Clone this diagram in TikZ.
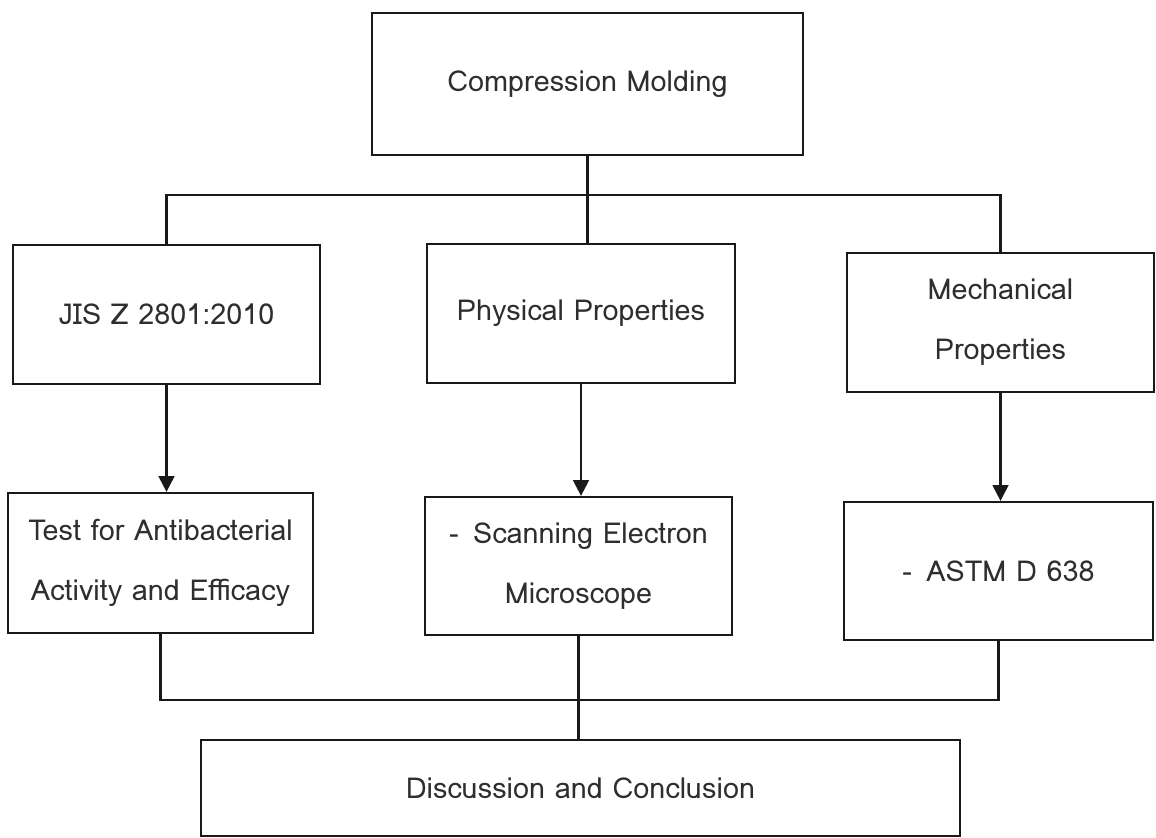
\documentclass[tikz,border=0pt]{standalone}
\usepackage{fontspec}
\setmainfont{Loma}
\usetikzlibrary{arrows.meta}
\begin{document}
\begin{tikzpicture}[x=0.02cm,y=-0.02cm,
  box/.style={draw=black!90,line width=1.3pt,inner sep=0pt,align=center,
    text=black!82,font=\fontsize{16.4}{34}\selectfont},
  link/.style={draw=black!90,line width=1.3pt},
  arr/.style={link,-{Triangle[width=9pt,length=9pt]}}]
  \useasboundingbox (0,0) rectangle (1156,838);
  % boxes (centres and sizes in pixel units)
  \node[box,minimum width=8.62cm,minimum height=2.84cm] (top) at (587.5,84) {Compression Molding};
  \node[box,minimum width=6.14cm,minimum height=2.78cm] (left1) at (166.5,314.5) {JIS Z 2801:2010};
  \node[box,minimum width=6.16cm,minimum height=2.78cm] (mid1) at (581,313.5) {Physical Properties};
  \node[box,minimum width=6.14cm,minimum height=2.78cm] (right1) at (1000.5,322.5) {Mechanical\\Properties};
  \node[box,minimum width=6.10cm,minimum height=2.80cm] (left2) at (160.5,563) {Test for Antibacterial\\Activity and Efficacy};
  \node[box,minimum width=6.14cm,minimum height=2.76cm] (mid2) at (578.5,566) {-\enspace Scanning Electron\\Microscope};
  \node[box,minimum width=6.18cm,minimum height=2.76cm] (right2) at (998.5,571) {-\enspace ASTM D 638};
  \node[box,minimum width=15.18cm,minimum height=1.92cm] (bottom) at (580.5,788) {Discussion and Conclusion};
  % branching from the top box
  \coordinate (bus) at (585,195);
  \draw[link] (top.south) -- (top.south |- mid1.north);
  \draw[link] (left1.north) |- (bus) -| (right1.north);
  % arrows down each column
  \draw[arr] (left1.south) -- (left1.south |- left2.north);
  \draw[arr] (mid1.south) -- (mid1.south |- mid2.north);
  \draw[arr] (right1.south) -- (right1.south |- right2.north);
  % joining into the conclusion
  \coordinate (join) at (580,700);
  \draw[link] (left2.south) |- (join) -| (right2.south);
  \draw[link] (mid2.south) -- (mid2.south |- bottom.north);
\end{tikzpicture}
\end{document}
